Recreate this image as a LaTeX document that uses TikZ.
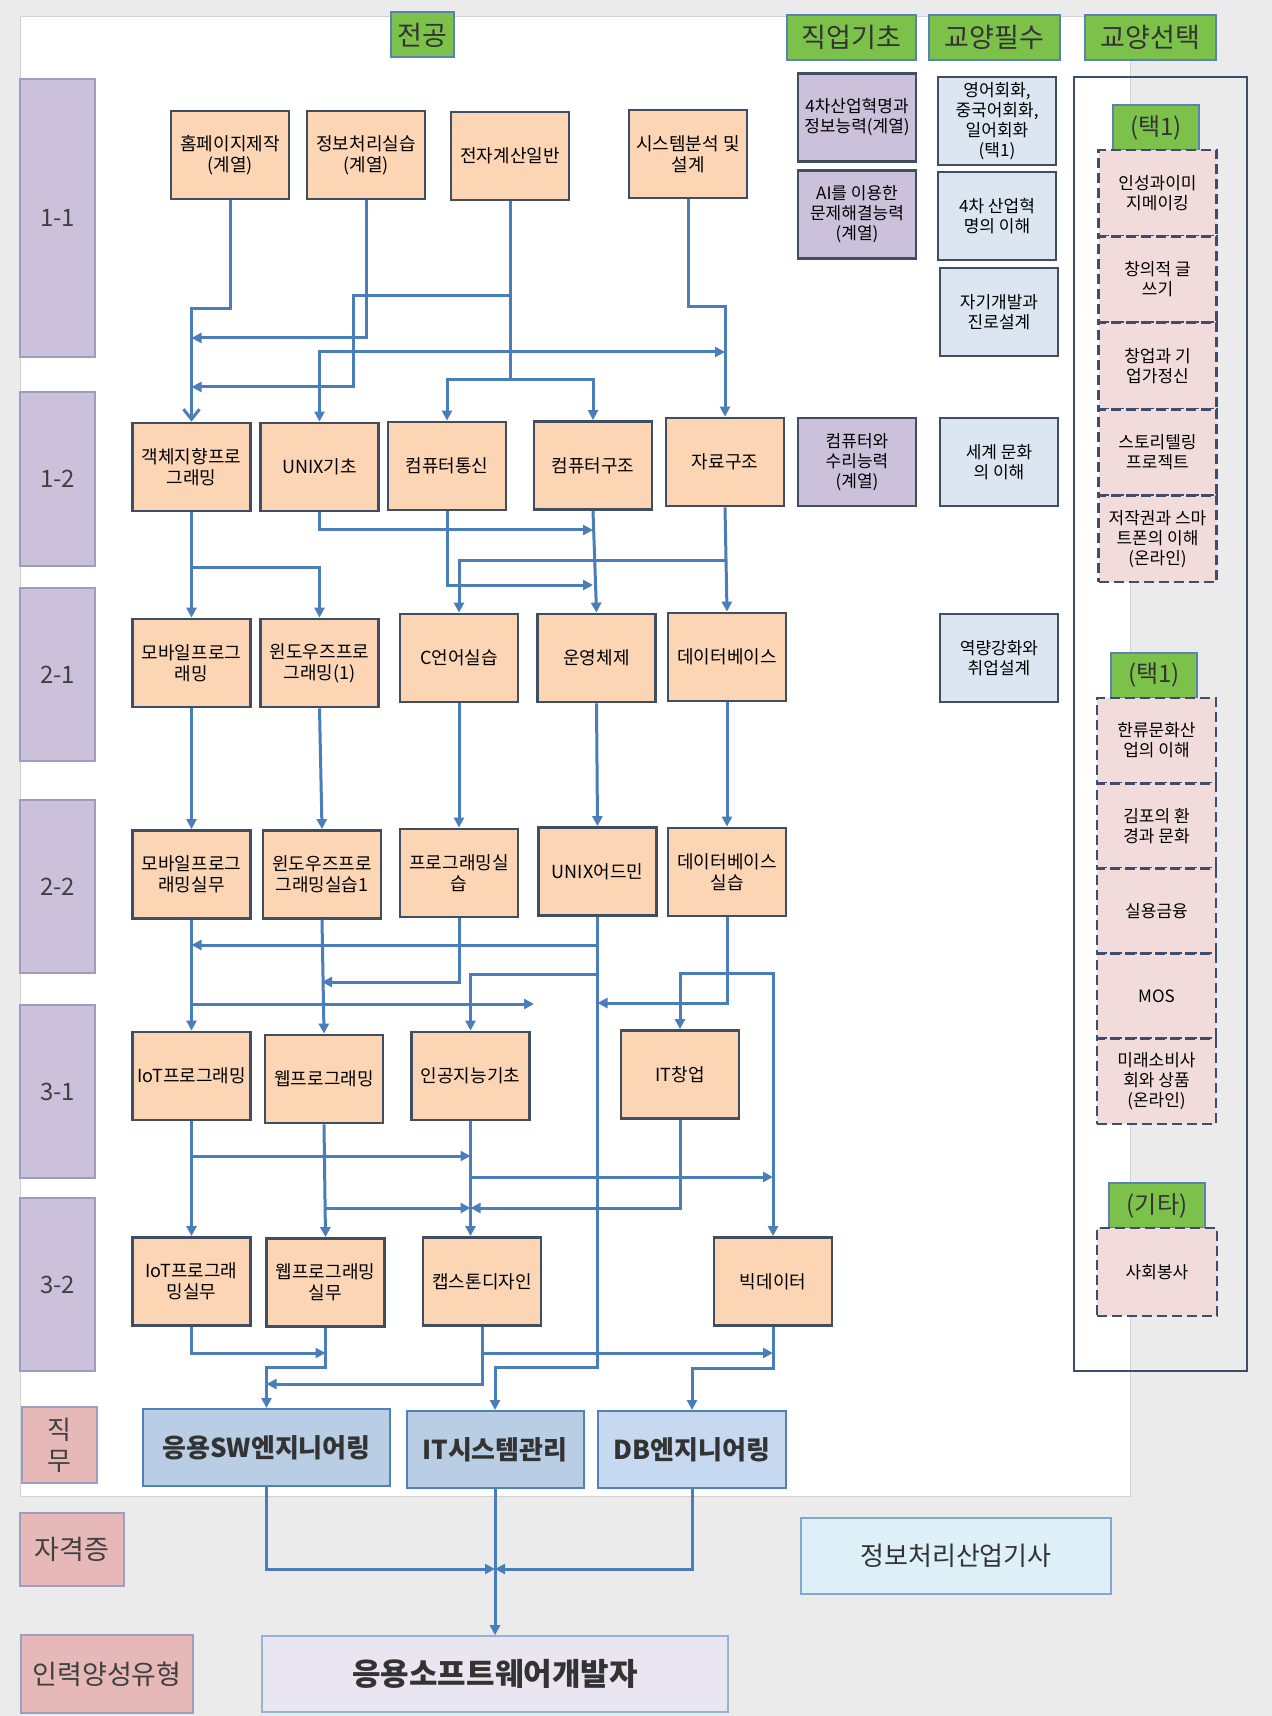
\documentclass[tikz,border=0pt]{standalone}
\usepackage{fontspec}
\newfontfamily\kr{Noto Sans CJK KR}
\usetikzlibrary{arrows.meta}

\definecolor{bgGray}{HTML}{EBEBEB}
\definecolor{courseFill}{HTML}{FCD5B5}
\definecolor{boxLine}{HTML}{3F4E60}
\definecolor{termFill}{HTML}{CCC1DA}
\definecolor{termLine}{HTML}{A09CC0}
\definecolor{reqFill}{HTML}{DCE6F2}
\definecolor{electFill}{HTML}{F2DCDB}
\definecolor{electLine}{HTML}{3E4C6E}
\definecolor{tagFill}{HTML}{E6B9B8}
\definecolor{headFill}{HTML}{7CC24A}
\definecolor{headLine}{HTML}{5B82B5}
\definecolor{jobFill}{HTML}{B9CDE5}
\definecolor{jobFillB}{HTML}{C6D9F1}
\definecolor{jobLine}{HTML}{4F81BD}
\definecolor{certFill}{HTML}{DDF0F8}
\definecolor{devFill}{HTML}{E9E6F1}
\definecolor{flowBlue}{HTML}{4A7EBB}

\tikzset{
  course/.style={draw=boxLine, line width=1.4pt, fill=courseFill, minimum width=59pt, minimum height=44pt,
    inner sep=1pt, align=center, font={\kr\fontsize{9}{10.5}\selectfont}},
  basic/.style={course, fill=termFill, font={\kr\fontsize{8.5}{10}\selectfont}},
  req/.style={course, fill=reqFill, font={\kr\fontsize{8.5}{10}\selectfont}},
  elect/.style={course, fill=electFill, draw=electLine, dash pattern=on 5pt off 2.5pt, font={\kr\fontsize{8.5}{10}\selectfont}},
  frame/.style={draw=electLine, line width=1.2pt},
  term/.style={draw=termLine, line width=0.8pt, fill=termFill, minimum width=37.5pt, font={\kr\fontsize{12}{14}\selectfont}, text=black!75},
  tag/.style={draw=termLine, line width=0.8pt, fill=tagFill, align=center, font={\kr\fontsize{13.5}{16}\selectfont}, text=black!75},
  head/.style={draw=headLine, line width=1pt, fill=headFill, minimum height=22.5pt, font={\kr\fontsize{13.5}{15}\selectfont}, text=black!80},
  pick/.style={head, minimum width=43pt, font={\kr\fontsize{12}{14}\selectfont}},
  job/.style={draw=jobLine, line width=1pt, fill=jobFill, minimum height=38.5pt, font={\kr\bfseries\fontsize{13}{15}\selectfont}, text=black!80},
  flow/.style={draw=flowBlue, line width=1.5pt, -{Triangle[length=5pt,width=5pt]}},
  link/.style={draw=flowBlue, line width=1.5pt},
}

\begin{document}
\begin{tikzpicture}[x=0.5pt, y=-0.5pt]
  \useasboundingbox (0,0) rectangle (1272,1716);
  \fill[bgGray] (0,0) rectangle (1272,1716); % background
  \filldraw[fill=white, draw=gray!35] (20,16) rectangle (1130,1496); % sheet

  % column headers
  \node[head, minimum width=31.5pt] (hMajor) at (422.5,35) {전공};
  \node[head, minimum width=64.5pt] (hBasic) at (851.5,37.5) {직업기초};
  \node[head, minimum width=65.5pt] (hReq) at (994.5,37.5) {교양필수};
  \node[head, minimum width=65.5pt] (hElect) at (1150.5,37.5) {교양선택};

  % terms
  \foreach \nm/\yc/\hh/\lb in {s11/218/139/1-1, s12/479/87/1-2, s21/674.5/86.5/2-1,
      s22/886.5/86.5/2-2, s31/1091.5/86.5/3-1, s32/1284.5/86.5/3-2} {
      \node[term, minimum height=\hh pt] (\nm) at (57.5,\yc) {\lb};
    }
  \node[tag, minimum width=37.5pt, minimum height=38pt, font={\kr\fontsize{13}{15.5}\selectfont}] (jobTag) at (59.5,1445) {직\\무};
  \node[tag, minimum width=52pt, minimum height=36.5pt] (certTag) at (72,1549.5) {자격증};
  \node[tag, minimum width=86pt, minimum height=39pt] (typeTag) at (107,1674) {인력양성유형};

  % 1-1
  \node[course] (hp) at (230,155) {홈페이지제작\\(계열)};
  \node[course] (ip) at (366,155) {정보처리실습\\(계열)};
  \node[course] (ec) at (510,156) {전자계산일반};
  \node[course] (sa) at (688,154) {시스템분석 및\\설계};
  % 1-2
  \node[course] (oop) at (191.5,467) {객체지향프로\\그래밍};
  \node[course] (ux) at (319.5,467) {UNIX기초};
  \node[course] (cn) at (447,466) {컴퓨터통신};
  \node[course] (ca) at (593,465.5) {컴퓨터구조};
  \node[course] (ds) at (725,462) {자료구조};
  % 2-1
  \node[course] (mb) at (191.5,663) {모바일프로그\\래밍};
  \node[course] (wn) at (319.5,663) {윈도우즈프로\\그래밍(1)};
  \node[course] (cl) at (459,658) {C언어실습};
  \node[course] (os) at (596.5,658) {운영체제};
  \node[course] (db) at (727,657) {데이터베이스};
  % 2-2
  \node[course] (mbp) at (191.5,874.5) {모바일프로그\\래밍실무};
  \node[course] (wnp) at (322,874.5) {윈도우즈프로\\그래밍실습1};
  \node[course] (pp) at (459,873) {프로그래밍실\\습};
  \node[course] (ua) at (597.5,871.5) {UNIX어드민};
  \node[course] (dbp) at (727,872) {데이터베이스\\실습};
  % 3-1
  \node[course] (iot) at (191.5,1076) {IoT프로그래밍};
  \node[course] (web) at (324,1079) {웹프로그래밍};
  \node[course] (ai) at (470.5,1076) {인공지능기초};
  \node[course] (it) at (680,1074.5) {IT창업};
  % 3-2
  \node[course] (iotp) at (191.5,1281.5) {IoT프로그래\\밍실무};
  \node[course] (webp) at (325.5,1282.5) {웹프로그래밍\\실무};
  \node[course] (cap) at (482,1281.5) {캡스톤디자인};
  \node[course] (bd) at (773,1281.5) {빅데이터};

  % 직업기초, 교양필수
  \node[basic] (ind) at (857,117.5) {4차산업혁명과\\정보능력(계열)};
  \node[basic] (aip) at (857,214.5) {AI를 이용한\\문제해결능력\\(계열)};
  \node[basic] (cmm) at (857,462) {컴퓨터와\\수리능력\\(계열)};
  \node[req] (lang) at (997,121) {영어회화,\\중국어회화,\\일어회화\\(택1)};
  \node[req] (rev) at (997,216) {4차 산업혁\\명의 이해};
  \node[req] (self) at (999,312) {자기개발과\\진로설계};
  \node[req] (cult) at (999,462) {세계 문화\\의 이해};
  \node[req] (emp) at (999,658) {역량강화와\\취업설계};

  % 교양선택
  \node[frame, minimum width=86.5pt, minimum height=647pt] (electBox) at (1160.5,724) {};
  \node[pick] (pickA) at (1156,128) {(택1)};
  \foreach \t [count=\i] in {{인성과이미\\지메이킹}, {창의적 글\\쓰기}, {창업과 기\\업가정신},
      {스토리텔링\\프로젝트}, {저작권과 스마\\트폰의 이해\\(온라인)}} {
      \node[elect, minimum height=43.2pt] (ea\i) at (1157.5,106.8+86.4*\i) {\t};
    }
  \node[pick] (pickB) at (1154,675) {(택1)};
  \foreach \t [count=\i] in {{한류문화산\\업의 이해}, {김포의 환\\경과 문화}, {실용금융},
      {MOS}, {미래소비사\\회와 상품\\(온라인)}} {
      \node[elect, minimum width=59.5pt, minimum height=42.6pt] (eb\i) at (1156.5,655.4+85.2*\i) {\t};
    }
  \node[pick, minimum width=48pt] (pickC) at (1157,1205.5) {(기타)};
  \node[elect, minimum width=60pt] (ec1) at (1157,1272) {사회봉사};

  % jobs, certificate, result
  \node[job, minimum width=123.5pt] (swe) at (266.5,1447.5) {응용SW엔지니어링};
  \node[job, minimum width=88.5pt] (itm) at (495,1449.5) {IT시스템관리};
  \node[job, fill=jobFillB, minimum width=94pt] (dbe) at (692,1449.5) {DB엔지니어링};
  \node[draw=jobLine!70, line width=0.8pt, fill=certFill, minimum width=155pt, minimum height=38pt,
    font={\kr\fontsize{13}{15}\selectfont}, text=black!80] (cert) at (956,1556) {정보처리산업기사};
  \node[draw=jobLine!60, line width=0.8pt, fill=devFill, minimum width=233pt, minimum height=38pt,
    font={\kr\bfseries\fontsize{15.5}{17}\selectfont}, text=black!80] (dev) at (495,1674) {응용소프트웨어개발자};

  % 1-1 -> 1-2
  \draw[flow, -{Straight Barb[length=5pt,width=8pt]}] (hp.south) -- (hp.south |- 0,309) -| (oop.north);
  \draw[flow] (ip.south) |- (oop.north |- 0,338);
  \draw[link] (ec.south) -- (ec.south |- 0,380);
  \draw[flow] (ec.south |- 0,296) -| (353,387) -- (oop.north |- 0,387);
  \draw[flow] (ec.south |- 0,352) -| (ux.north);
  \draw[flow] (ec.south |- 0,352) -- (ds.north |- 0,352);
  \draw[flow] (ec.south |- 0,380) -| (cn.north);
  \draw[flow] (ec.south |- 0,380) -| (ca.north);
  \draw[flow] (sa.south) -- (sa.south |- 0,307) -| (ds.north);

  % 1-2 -> 2-1
  \draw[flow] (oop.south) -- (mb.north);
  \draw[flow] (oop.south |- 0,567) -| (wn.north);
  \draw[flow] (ux.south) |- (ca.south |- 0,530);
  \draw[flow] (cn.south) |- (ca.south |- 0,585);
  \draw[flow] (ca.south) -- (os.north);
  \draw[flow] (ds.south) -- (db.north);
  \draw[flow] (ds.south |- 0,560) -| (cl.north);

  % 2-1 -> 2-2
  \foreach \a/\b in {mb/mbp, wn/wnp, cl/pp, os/ua, db/dbp} {
      \draw[flow] (\a.south) -- (\b.north);
    }

  % 2-2 -> 3-1
  \coordinate (open) at (534,1004);
  \draw[flow] (mbp.south) -- (iot.north);
  \draw[flow] (mbp.south |- 0,1004) -- (open);
  \draw[flow] (ua.south) -- (ua.south |- 0,1367) -| (itm.north);
  \draw[flow] (ua.south |- 0,945) -- (mbp.south |- 0,945);
  \draw[flow] (ua.south |- 0,974) -| (ai.north);
  \draw[flow] (wnp.south) -- (web.north);
  \draw[flow] (pp.south) |- (wnp.south |- 0,982);
  \draw[flow] (dbp.south) |- (ua.south |- 0,1003);
  \draw[flow] (dbp.south |- 0,973) -| (it.north);
  \draw[flow] (dbp.south |- 0,973) -| (bd.north);

  % 3-1 -> 3-2
  \draw[flow] (iot.south) -- (iotp.north);
  \draw[flow] (iot.south |- 0,1156) -- (ai.south |- 0,1156);
  \draw[flow] (web.south) -- (webp.north);
  \draw[flow] (web.south |- 0,1208) -- (ai.south |- 0,1208);
  \draw[flow] (ai.south) -- (ai.south |- cap.north);
  \draw[flow] (ai.south |- 0,1177) -- (bd.north |- 0,1177);
  \draw[flow] (it.south) |- (ai.south |- 0,1208);

  % 3-2 -> jobs
  \draw[flow] (iotp.south) |- (webp.south |- 0,1353);
  \draw[flow] (webp.south) -- (webp.south |- 0,1367) -| (swe.north);
  \draw[flow] (cap.south) |- (swe.north |- 0,1384);
  \draw[flow] (cap.south |- 0,1353) -- (bd.south |- 0,1353);
  \draw[flow] (bd.south) -- (bd.south |- 0,1368) -| (dbe.north);

  % jobs -> result
  \draw[flow] (itm.south) -- (dev.north);
  \draw[flow] (swe.south) |- (dev.north |- 0,1569);
  \draw[flow] (dbe.south) |- (dev.north |- 0,1569);
\end{tikzpicture}
\end{document}
